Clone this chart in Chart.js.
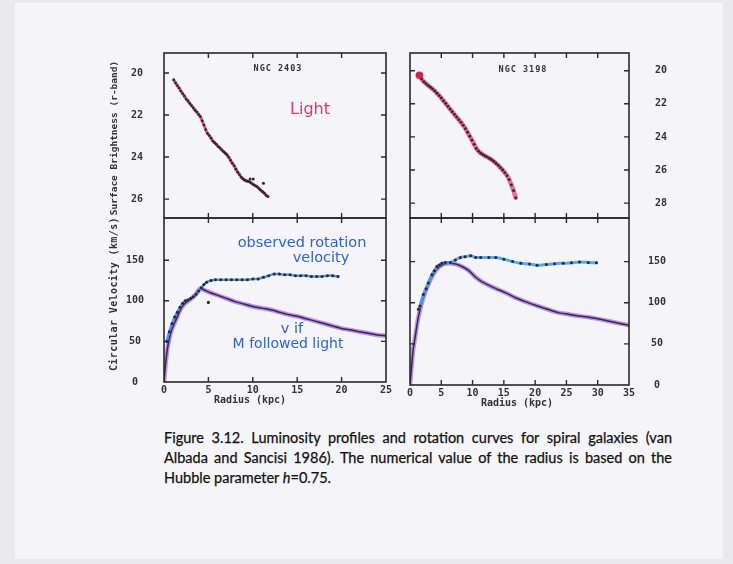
<!DOCTYPE html>
<html><head><meta charset="utf-8">
<script src="https://cdn.jsdelivr.net/npm/chart.js@4.4.0/dist/chart.umd.min.js"></script>
<style>
html,body{margin:0;padding:0;}
body{width:733px;height:564px;background:#e9e9ee;position:relative;overflow:hidden;font-family:'DejaVu Sans Mono',monospace;}
#page{position:absolute;left:15px;top:3px;width:708px;height:556px;background:#f5f5f9;}
canvas{position:absolute;}
.t{position:absolute;white-space:nowrap;color:#333;font-weight:bold;transform:translate(-50%,-50%);}
.v{transform:translate(-50%,-50%) rotate(-90deg);}
.hand{position:absolute;white-space:nowrap;font-family:'DejaVu Sans',sans-serif;transform:translate(-50%,-50%);}
.cap{position:absolute;left:164px;width:508px;font-family:Lato,'Open Sans',sans-serif;font-size:14.5px;color:#111;line-height:20px;-webkit-text-stroke:0.25px #111;}
.j{text-align:justify;text-align-last:justify;}
</style></head>
<body>
<div id="page"></div>
<canvas id="c1" width="300" height="190" style="left:100px;top:40px"></canvas>
<canvas id="c2" width="300" height="200" style="left:100px;top:210px"></canvas>
<canvas id="c3" width="290" height="190" style="left:400px;top:40px"></canvas>
<canvas id="c4" width="290" height="210" style="left:400px;top:210px"></canvas>

<div class="t v" style="left:113px;top:138px;font-size:9.5px;">Surface Brightness (r-band)</div>
<div class="t v" style="left:113px;top:294px;font-size:10px;letter-spacing:0.4px;">Circular Velocity (km/s)</div>
<div class="t" style="left:250px;top:399px;font-size:10px;">Radius (kpc)</div>
<div class="t" style="left:517px;top:402px;font-size:10px;">Radius (kpc)</div>
<div class="t" style="left:278px;top:68px;font-size:8.5px;letter-spacing:1px;">NGC 2403</div>
<div class="t" style="left:523px;top:69px;font-size:8.5px;letter-spacing:1px;">NGC 3198</div>

<div class="hand" style="left:310px;top:108px;font-size:16px;color:#e5336c;">Light</div>
<div class="hand" style="left:302px;top:242px;font-size:14.5px;color:#2b62d6;">observed rotation</div>
<div class="hand" style="left:321px;top:257px;font-size:14.5px;color:#2b62d6;">velocity</div>
<div class="hand" style="left:292px;top:328px;font-size:14.5px;color:#2b62d6;">v if</div>
<div class="hand" style="left:288px;top:343px;font-size:14px;color:#2b62d6;">M followed light</div>

<div class="cap j" style="top:428px;">Figure 3.12. Luminosity profiles and rotation curves for spiral galaxies (van</div>
<div class="cap j" style="top:448px;">Albada and Sancisi 1986). The numerical value of the radius is based on the</div>
<div class="cap" style="top:468px;">Hubble parameter <i>h</i>=0.75.</div>

<script>
// ---- tick labels ----
const xTicks2403 = [0,5,10,15,20,25];
const xTicks3198 = [0,5,10,15,20,25,30,35];
const muTicks2403 = [20,22,24,26];
const muTicks3198 = [20,22,24,26,28];
const vTicks = [0,50,100,150];

// ---- NGC 2403 surface brightness ----
const r2403Light = [1.1,1.3,1.5,1.7,1.9,2.1,2.3,2.5,2.7,2.9,3.1,3.3,3.5,3.7,3.9,4.1,4.3,4.5,4.7,4.9,5.1,5.3,5.5,5.7,5.9,6.1,6.3,6.5,6.7,6.9,7.1,7.3,7.5,7.7,7.9,8.1,8.3,8.5,8.7,8.9,9.1,9.3,9.5,9.7,9.9,10.1,10.3,10.5,10.7,10.9,11.1,11.3,11.5,11.7];
const mu2403 = [20.33,20.47,20.6,20.72,20.86,20.98,21.1,21.24,21.33,21.45,21.55,21.66,21.77,21.86,21.98,22.08,22.28,22.48,22.7,22.88,22.98,23.1,23.24,23.32,23.4,23.5,23.57,23.66,23.74,23.82,23.9,24.02,24.16,24.3,24.42,24.58,24.72,24.84,24.96,25.04,25.1,25.14,25.16,25.2,25.26,25.32,25.37,25.42,25.5,25.58,25.65,25.72,25.82,25.88];
const r2403LightOut = [9.7,10.05,11.2];
const mu2403Out = [25.04,25.04,25.25];

// ---- NGC 3198 surface brightness ----
const r3198Light = [1.5,1.85,2.2,2.55,2.9,3.25,3.6,3.95,4.3,4.65,5.0,5.35,5.7,6.05,6.4,6.75,7.1,7.45,7.8,8.15,8.5,8.85,9.2,9.55,9.9,10.25,10.6,10.95,11.3,11.65,12.0,12.35,12.7,13.05,13.4,13.75,14.1,14.45,14.8,15.15,15.5,15.85,16.2,16.55,16.9];
const mu3198 = [20.28,20.5,20.66,20.78,20.9,21.0,21.1,21.22,21.36,21.5,21.65,21.82,21.98,22.15,22.32,22.48,22.64,22.8,22.96,23.12,23.3,23.5,23.72,23.96,24.2,24.45,24.7,24.86,24.98,25.07,25.15,25.22,25.3,25.38,25.48,25.6,25.72,25.86,26.0,26.16,26.34,26.58,26.9,27.25,27.68];

// ---- NGC 2403 rotation ----
const r2403Obs = [0.3,0.6,0.9,1.2,1.5,1.8,2.1,2.4,2.7,3.0,3.3,3.6,3.9,4.2,4.5,4.8,5.3,5.8,6.4,7.0,7.6,8.2,8.8,9.4,10.0,10.6,11.2,11.8,12.4,13.0,13.6,14.2,14.8,15.4,16.0,16.6,17.2,17.8,18.4,19.0,19.6];
const v2403Obs = [50,62,72,80,86,92,97,100,101,103,105,108,112,116,120,123,125,126,126,126,126,126,126,126,127,127,129,131,133,133,132,132,131,131,131,130,130,130,131,131,130];
const r2403ObsOut = [5.0];
const v2403ObsOut = [98];
const r2403Mod = [0,0.2,0.4,0.7,1.0,1.4,1.8,2.2,2.6,3.0,3.5,4.1,4.6,5.2,6,7,8,9,10,11,12,13,14,15,16,17,18,19,20,21,22,23,24,25];
const v2403Mod = [0,25,42,58,68,78,88,95,99,102,107,115,113,110,107,103,99,96,93,91,89,86,83,81,78,75,72,69,66,64,62,60,58,57];

// ---- NGC 3198 rotation ----
const r3198Obs = [1.35,1.6,2.15,2.6,2.95,3.5,3.9,4.3,4.7,5.1,5.65,6.45,7.25,8.05,8.8,9.7,10.5,11.3,12.6,13.7,15.0,16.4,17.7,19.1,20.3,21.8,23.1,24.5,25.8,27.1,28.5,29.8];
const v3198Obs = [92,96,110,117,124,134,139,144,146,148,149,149,152,155,156,157,155,155,155,155,153,150,148,147,145.5,146.5,147.5,148,148.5,149.5,149,148.5];
const r3198Mod = [0,0.25,0.5,0.8,1.35,2.15,3.2,4.3,5.4,6.3,7.3,8.3,9.4,10.5,11.6,13.2,15.3,16.9,18.5,20.4,22,23.7,25.3,26.9,28.8,30.6,32.8,35];
const v3198Mod = [0,22,43,57,83,107,127,141,147,148,147,144,139,131,125,119,112,106,101,96,92,88,86,84,82,79.5,76,72.5];

const pts = (xs, ys) => xs.map((x, i) => ({x: x, y: ys[i]}));

Chart.defaults.font.family = "'DejaVu Sans Mono', monospace";
Chart.defaults.font.size = 10;
Chart.defaults.font.weight = 'bold';
Chart.defaults.color = '#333';

const framePlugin = {
  id: 'frame',
  afterDraw(chart, args, opts) {
    const ctx = chart.ctx, a = chart.chartArea, x = chart.scales.x, y = chart.scales.y;
    ctx.save();
    ctx.strokeStyle = '#2a2a2a';
    ctx.lineWidth = 1.6;
    ctx.strokeRect(a.left, a.top, a.right - a.left, a.bottom - a.top);
    ctx.lineWidth = 1.4;
    const L = 5;
    (opts.xt || []).forEach(v => {
      const px = x.getPixelForValue(v);
      if (px <= a.left + 1 || px >= a.right - 1) return;
      ctx.beginPath();
      ctx.moveTo(px, a.top); ctx.lineTo(px, a.top + L);
      ctx.moveTo(px, a.bottom); ctx.lineTo(px, a.bottom - L);
      ctx.stroke();
    });
    (opts.yt || []).forEach(v => {
      const py = y.getPixelForValue(v);
      if (py <= a.top + 1 || py >= a.bottom - 1) return;
      ctx.beginPath();
      ctx.moveTo(a.left, py); ctx.lineTo(a.left + L, py);
      ctx.moveTo(a.right, py); ctx.lineTo(a.right - L, py);
      ctx.stroke();
    });
    ctx.restore();
  }
};

function lineDs(data, color, width, order) {
  return {data: data, showLine: true, pointRadius: 0, pointHoverRadius: 0, borderColor: color, borderWidth: width, tension: 0.25, order: order, borderCapStyle: 'round', borderJoinStyle: 'round'};
}
function dotDs(data, r, color, order) {
  return {data: data, showLine: false, pointRadius: r, pointHoverRadius: r, pointBackgroundColor: color, pointBorderWidth: 0, order: order};
}
function yAxis(o) {
  return {
    type: 'linear', min: o.min, max: o.max, reverse: !!o.reverse, position: o.pos,
    grid: {display: false, drawTicks: false}, border: {display: false},
    afterFit(s) { s.width = o.w; s.paddingTop = 0; s.paddingBottom = 0; },
    afterBuildTicks(s) { s.ticks = o.ticks.map(v => ({value: v})); },
    ticks: {padding: o.pad, crossAlign: 'center', color: '#333'}
  };
}
function xAxis(o) {
  if (!o.show) return {type: 'linear', min: o.min, max: o.max, display: false};
  return {
    type: 'linear', min: o.min, max: o.max, position: 'bottom',
    grid: {display: false, drawTicks: false}, border: {display: false},
    afterFit(s) { s.height = 20; s.paddingLeft = 0; s.paddingRight = 0; },
    afterBuildTicks(s) { s.ticks = o.ticks.map(v => ({value: v})); },
    ticks: {padding: 2, maxRotation: 0, autoSkip: false, color: '#333'}
  };
}
function make(id, datasets, padding, xs, ys, xt, yt) {
  return new Chart(document.getElementById(id), {
    type: 'scatter',
    data: {datasets: datasets},
    options: {
      responsive: false, animation: false, devicePixelRatio: 1,
      layout: {padding: padding, autoPadding: false},
      plugins: {legend: {display: false}, tooltip: {enabled: false}, frame: {xt: xt, yt: yt}},
      scales: {x: xs, y: ys}
    },
    plugins: [framePlugin]
  });
}

// Top-left: NGC 2403 light
make('c1', [
  lineDs(pts(r2403Light, mu2403), 'rgba(232,60,110,0.85)', 3, 3),
  dotDs(pts(r2403Light, mu2403), 1.4, '#2a2a2a', 1),
  dotDs(pts(r2403LightOut, mu2403Out), 1.5, '#2a2a2a', 1)
], {top: 13, right: 14, bottom: 12, left: 0},
  xAxis({show: false, min: 0, max: 25}),
  yAxis({min: 19.05, max: 26.9, reverse: true, pos: 'left', w: 64, pad: 21, ticks: muTicks2403}),
  xTicks2403, muTicks2403);

// Bottom-left: NGC 2403 rotation
make('c2', [
  lineDs(pts(r2403Mod, v2403Mod), 'rgba(180,135,230,0.9)', 4.5, 5),
  lineDs(pts(r2403Mod, v2403Mod), '#3b2650', 1.5, 4),
  lineDs(pts(r2403Obs, v2403Obs), 'rgba(60,140,235,0.9)', 2.5, 3),
  dotDs(pts(r2403Obs, v2403Obs), 1.5, '#2a2a2a', 1),
  dotDs(pts(r2403ObsOut, v2403ObsOut), 1.6, '#2a2a2a', 1)
], {top: 8, right: 14, bottom: 8, left: 0},
  xAxis({show: true, min: 0, max: 25, ticks: xTicks2403}),
  yAxis({min: 0, max: 202, pos: 'left', w: 64, pad: 20, ticks: vTicks}),
  xTicks2403, vTicks);

// Top-right: NGC 3198 light
make('c3', [
  lineDs(pts(r3198Light, mu3198), 'rgba(236,80,130,0.85)', 4.5, 3),
  dotDs(pts(r3198Light, mu3198), 1.4, '#2a2a2a', 1),
  dotDs(pts(r3198Light.slice(0, 1), mu3198.slice(0, 1)), 3.8, '#d4204f', 0)
], {top: 13, right: 11, bottom: 12, left: 10},
  xAxis({show: false, min: 0, max: 35}),
  yAxis({min: 18.93, max: 28.9, reverse: true, pos: 'right', w: 50, pad: 26, ticks: muTicks3198}),
  xTicks3198, muTicks3198);

// Bottom-right: NGC 3198 rotation
make('c4', [
  lineDs(pts(r3198Mod, v3198Mod), 'rgba(180,135,230,0.9)', 4.5, 5),
  lineDs(pts(r3198Mod, v3198Mod), '#3b2650', 1.5, 4),
  lineDs(pts(r3198Obs, v3198Obs), 'rgba(70,160,240,0.9)', 3, 3),
  dotDs(pts(r3198Obs, v3198Obs), 1.5, '#2a2a2a', 1)
], {top: 8, right: 11, bottom: 15, left: 10},
  xAxis({show: true, min: 0, max: 35, ticks: xTicks3198}),
  yAxis({min: 0, max: 203, pos: 'right', w: 50, pad: 19, ticks: vTicks}),
  xTicks3198, vTicks);
</script>
</body></html>
